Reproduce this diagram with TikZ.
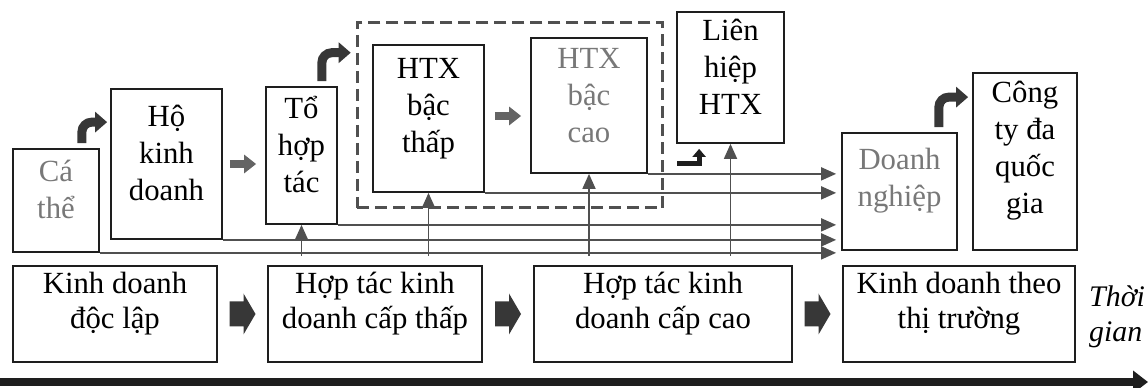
\documentclass[tikz,border=0pt]{standalone}
\usepackage{fontspec}
\setmainfont{Liberation Serif}
\usepackage{tikz}
\usetikzlibrary{arrows.meta, calc, fit}
\definecolor{boxline}{RGB}{30,30,30}
\definecolor{lightink}{RGB}{120,120,120}
\definecolor{linkgray}{RGB}{80,80,80}
\definecolor{arrowgray}{RGB}{100,100,100}
\definecolor{darkfill}{RGB}{55,55,55}

\begin{document}
\begin{tikzpicture}[x=0.2mm, y=-0.2mm,
    box/.style={draw=boxline, line width=1pt, inner sep=0pt, align=center, font=\fontsize{17.5}{21}\selectfont},
    stagebox/.style={box, font=\fontsize{17.5}{20}\selectfont},
    lighttext/.style={text=lightink},
    group/.style={draw=linkgray, line width=1.6pt, dash pattern=on 2.4mm off 1.2mm, inner sep=3mm},
    conn/.style={draw=linkgray, line width=1pt, -{Triangle[length=3mm, width=2.6mm]}},
    midarrow/.style={draw=arrowgray, line width=1.6mm, -{Triangle[length=2.4mm, width=3.6mm]}},
    bent/.style={draw=darkfill, line width=1.8mm, rounded corners=2mm, -{Triangle[length=2.4mm, width=4mm]}},
    smallbent/.style={draw=boxline, line width=1mm, -{Triangle[length=1.6mm, width=2.6mm]}},
    blockarrow/.style={fill=darkfill},
    timeline/.style={draw=boxline, line width=1.6mm, -{Triangle[length=3mm, width=4.4mm]}}
]
    \useasboundingbox (0,0) rectangle (1148,388);

    % Forms of organisation (top row)
    \node[box, lighttext, fit={(13,149) (99,252)}] (cathe) {Cá\\thể};
    \node[box, fit={(111,89) (222,239)}] (hokd) {Hộ\\kinh\\doanh};
    \node[box, fit={(266,87) (337,224)}] (tohop) {Tổ\\hợp\\tác};
    \node[box, fit={(373,45) (484,192)}] (htxthap) {HTX\\bậc\\thấp};
    \node[box, lighttext, fit={(531,38) (647,173)}] (htxcao) {HTX\\bậc\\cao};
    \node[box, fit={(677,12) (784,143)}] (lienhiep) {Liên\\hiệp\\HTX};
    \node[box, lighttext, fit={(842,133) (957,250)}] (dn) {Doanh\\nghiệp};
    \node[box, fit={(973,73) (1077,250)}] (cty) {Công\\ty đa\\quốc\\gia};
    \node[group, fit=(htxthap)(htxcao)] (htxgroup) {};

    % Stages (bottom row)
    \node[stagebox, fit={(13,266) (217,362)}] (kdl) {Kinh doanh\\độc lập};
    \node[stagebox, fit={(268,266) (482,362)}] (hts) {Hợp tác kinh\\doanh cấp thấp};
    \node[stagebox, fit={(534,266) (792,362)}] (htc) {Hợp tác kinh\\doanh cấp cao};
    \node[stagebox, fit={(843,266) (1075,362)}] (kdtt) {Kinh doanh theo\\thị trường};
    \node[font=\fontsize{17}{20}\selectfont\itshape, align=left, anchor=west] (thoigian) at (1083,317) {Thời\\gian};

    % Block arrows between stages
    \foreach \a/\b in {kdl/hts, hts/htc, htc/kdtt} {
        \fill[blockarrow] ($(\a.east)!0.5!(\b.west)$) ++(-13,-12.5) -- ++(14,0) -- ++(0,-8)
            -- ++(12,20.5) -- ++(-12,20.5) -- ++(0,-8) -- ++(-14,0) -- cycle;
    }

    % Steps between forms
    \draw[midarrow] ([xshift=1.4mm]hokd.east) -- ([xshift=-1.8mm]hokd.east -| tohop.west);
    \draw[midarrow] ([xshift=2mm]htxthap.east |- 0,116) -- ([xshift=-1.8mm]htxcao.west |- 0,116);
    \draw[bent] ($(cathe.north east)+(-18,-5)$) |- ($(hokd.north west)+(-3,34)$);
    \draw[bent] ($(tohop.north east)+(-16,-5)$) |- ($(htxgroup.north west)+(-5,32)$);
    \draw[bent] ($(dn.north east)+(-19,-5)$) |- ($(cty.north west)+(-4,25)$);
    \draw[smallbent] ($(lienhiep.south west)+(1,20)$) -- ++(22,0) -- ++(0,-15);

    % Every form can become a company
    \foreach \n in {cathe, hokd, tohop, htxthap, htxcao} {
        \draw[conn, shorten >=1mm] (\n.south east) -- (\n.south east -| dn.west);
    }
    \coordinate (base) at (0,256);
    \foreach \n in {tohop, htxthap, htxcao, lienhiep} {
        \draw[conn] (\n.south |- base) -- (\n.south);
    }

    % Time axis
    \coordinate (t0) at (0,382);
    \coordinate (t1) at (1148,382);
    \draw[timeline] (t0) -- (t1);
\end{tikzpicture}
\end{document}
